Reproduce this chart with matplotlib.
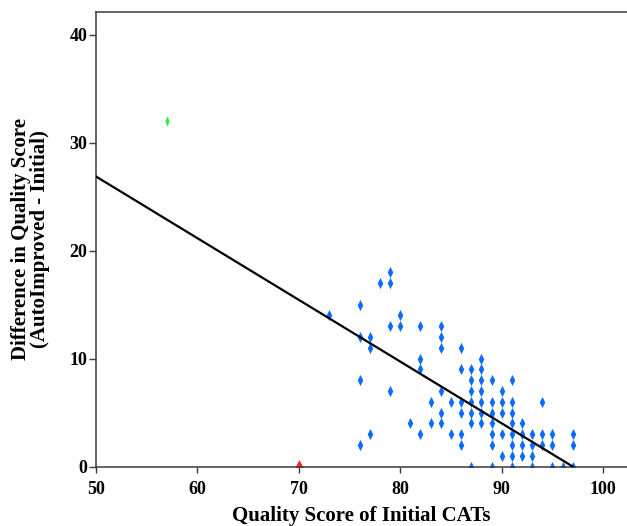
import matplotlib
matplotlib.use("Agg")
import matplotlib.pyplot as plt
from matplotlib.path import Path

# ---- data ----
initial_scores = [73,
                  76, 76, 76, 76,
                  77, 77, 77,
                  78,
                  79, 79, 79, 79,
                  80, 80,
                  81,
                  82, 82, 82, 82,
                  83, 83,
                  84, 84, 84, 84, 84, 84,
                  85, 85,
                  86, 86, 86, 86, 86, 86,
                  87, 87, 87, 87, 87, 87, 87,
                  88, 88, 88, 88, 88, 88, 88,
                  89, 89, 89, 89, 89, 89, 89,
                  90, 90, 90, 90, 90,
                  91, 91, 91, 91, 91, 91, 91, 91,
                  92, 92, 92, 92,
                  93, 93, 93, 93,
                  94, 94, 94,
                  95, 95, 95,
                  96,
                  97, 97, 97]
score_diffs = [14,
               15, 12, 8, 2,
               12, 11, 3,
               17,
               18, 17, 13, 7,
               14, 13,
               4,
               13, 10, 9, 3,
               6, 4,
               13, 12, 11, 7, 5, 4,
               6, 3,
               11, 9, 6, 5, 3, 2,
               9, 8, 7, 6, 5, 4, 0,
               10, 9, 8, 7, 6, 5, 4,
               8, 6, 5, 4, 3, 2, 0,
               7, 6, 5, 3, 1,
               8, 6, 5, 4, 3, 2, 1, 0,
               4, 3, 2, 1,
               3, 2, 1, 0,
               6, 3, 2,
               3, 2, 0,
               0,
               3, 2, 0]

green_x = [57]
green_y = [32]
red_x = [70]
red_y = [0]

fit_x = [50, 97]
fit_y = [26.9, 0.0]

x_ticks = [50, 60, 70, 80, 90, 100]
y_ticks = [0, 10, 20, 30, 40]

x_label = "Quality Score of Initial CATs"
y_label = "Difference in Quality Score\n(AutoImproved - Initial)"

# ---- styling ----
plt.rcParams['font.family'] = ['Liberation Serif', 'DejaVu Serif']
plt.rcParams['font.weight'] = 'bold'


def diamond_path(w):
    return Path([(0, 1), (w, 0), (0, -1), (-w, 0), (0, 1)],
                [Path.MOVETO, Path.LINETO, Path.LINETO, Path.LINETO, Path.CLOSEPOLY])


fig = plt.figure(figsize=(6.27, 5.26), dpi=100)
ax = fig.add_axes([0.1526, 0.1131, 0.8474, 0.8635])

ax.plot(initial_scores, score_diffs, linestyle='none', marker=diamond_path(0.5),
        markersize=8, color='#0a6cff', markeredgewidth=0, zorder=2)
ax.plot(green_x, green_y, linestyle='none', marker=diamond_path(0.4),
        markersize=7.5, color='#33ee33', markeredgewidth=0, zorder=2)
ax.plot(red_x, red_y, linestyle='none', marker=diamond_path(0.55),
        markersize=10.5, color='#ff2222', markeredgewidth=0, zorder=2)
ax.plot(fit_x, fit_y, color='black', linewidth=1.6, zorder=3)

ax.set_xlim(50, 102.35)
ax.set_ylim(0, 42.1)
ax.set_xticks(x_ticks)
ax.set_yticks(y_ticks)
ax.set_xticklabels([str(t) for t in x_ticks], fontsize=13, fontweight='bold')
ax.set_yticklabels([str(t) for t in y_ticks], fontsize=13, fontweight='bold')

for side in ['left', 'bottom', 'top']:
    ax.spines[side].set_color('#3a3a3a')
    ax.spines[side].set_linewidth(1.1)
ax.spines['right'].set_visible(False)

ax.tick_params(axis='x', direction='out', length=4.5, width=1, color='#3a3a3a', pad=6)
ax.tick_params(axis='y', direction='out', length=5, width=1, color='#3a3a3a', pad=1)

ax.set_xlabel(x_label, fontsize=15, fontweight='bold', labelpad=6)
ax.set_ylabel(y_label, fontsize=15, fontweight='bold', linespacing=0.92, labelpad=14)

fig.savefig("out.png", dpi=100)
